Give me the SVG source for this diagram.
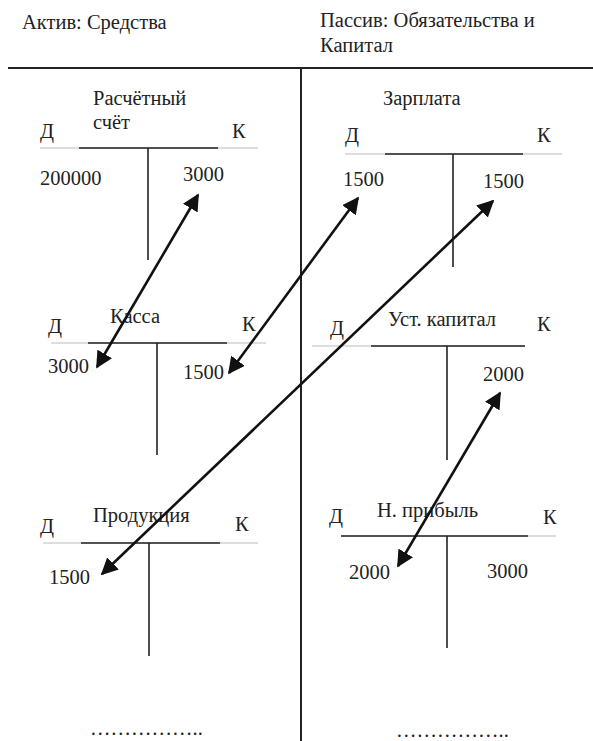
<svg xmlns="http://www.w3.org/2000/svg" width="593" height="741" viewBox="0 0 593 741">
<style>
text{font-family:"Liberation Serif","DejaVu Serif","Noto Serif",serif;font-size:20.5px;fill:#222}
.thin{stroke:#bbb;stroke-width:1}
.bar{stroke:#222;stroke-width:1.6}
.main{stroke:#222;stroke-width:2}
.arr{stroke:#111;stroke-width:2.6;fill:none;marker-start:url(#ah);marker-end:url(#ah)}
</style>
<defs>
<marker id="ah" viewBox="0 0 10 10" refX="9" refY="5" markerWidth="6.5" markerHeight="6.5" orient="auto-start-reverse">
<path d="M0,0 L10,5 L0,10 z" fill="#111"/>
</marker>
</defs>
<g id="header">
<text x="22" y="29">Актив: Средства</text>
<text x="320" y="27">Пассив: Обязательства и</text>
<text x="320" y="52">Капитал</text>
<line class="main" x1="8" y1="68" x2="593" y2="68"/>
<line class="main" x1="301" y1="68" x2="301" y2="741"/>
</g>
<g id="raschetny">
<text x="93" y="105">Расчётный</text>
<text x="93" y="129">счёт</text>
<text x="40" y="138">Д</text>
<text x="232" y="138">К</text>
<line class="thin" x1="40" y1="148" x2="258" y2="148"/>
<line class="bar" x1="79" y1="148" x2="218" y2="148"/>
<line class="bar" x1="148" y1="148" x2="148" y2="260"/>
<text x="40" y="185">200000</text>
<text x="183" y="181">3000</text>
</g>
<g id="zarplata">
<text x="383" y="105">Зарплата</text>
<text x="345" y="142">Д</text>
<text x="537" y="142">К</text>
<line class="thin" x1="345" y1="154" x2="562" y2="154"/>
<line class="bar" x1="385" y1="154" x2="523" y2="154"/>
<line class="bar" x1="453" y1="154" x2="453" y2="267"/>
<text x="343" y="186">1500</text>
<text x="483" y="188">1500</text>
</g>
<g id="kassa">
<text x="110" y="323">Касса</text>
<text x="48" y="333">Д</text>
<text x="242" y="331">К</text>
<line class="thin" x1="51" y1="343" x2="266" y2="343"/>
<line class="bar" x1="88" y1="343" x2="227" y2="343"/>
<line class="bar" x1="157" y1="343" x2="157" y2="455"/>
<text x="48" y="373">3000</text>
<text x="183" y="379">1500</text>
</g>
<g id="ustkapital">
<text x="388" y="326">Уст. капитал</text>
<text x="330" y="335">Д</text>
<text x="537" y="331">К</text>
<line class="thin" x1="312" y1="346" x2="525" y2="346"/>
<line class="bar" x1="371" y1="346" x2="525" y2="346"/>
<line class="bar" x1="447" y1="346" x2="447" y2="460"/>
<text x="483" y="381">2000</text>
</g>
<g id="produkcia">
<text x="93" y="522">Продукция</text>
<text x="40" y="533">Д</text>
<text x="235" y="531">К</text>
<line class="thin" x1="43" y1="543" x2="258" y2="543"/>
<line class="bar" x1="81" y1="543" x2="220" y2="543"/>
<line class="bar" x1="149" y1="543" x2="149" y2="656"/>
<text x="49" y="584">1500</text>
<text x="90" y="735">……………..</text>
</g>
<g id="pribyl">
<text x="377" y="517">Н. прибыль</text>
<text x="329" y="523">Д</text>
<text x="543" y="524">К</text>
<line class="thin" x1="341" y1="536" x2="556" y2="536"/>
<line class="bar" x1="341" y1="536" x2="528" y2="536"/>
<line class="bar" x1="447" y1="536" x2="447" y2="648"/>
<text x="349" y="579">2000</text>
<text x="487" y="578">3000</text>
<text x="396" y="737">……………..</text>
</g>
<g id="connectors">
<line class="arr" x1="97" y1="367" x2="198" y2="195"/>
<line class="arr" x1="229" y1="373" x2="358" y2="198"/>
<line class="arr" x1="102" y1="574" x2="493" y2="201"/>
<line class="arr" x1="398" y1="566" x2="500" y2="393"/>
</g>
</svg>
